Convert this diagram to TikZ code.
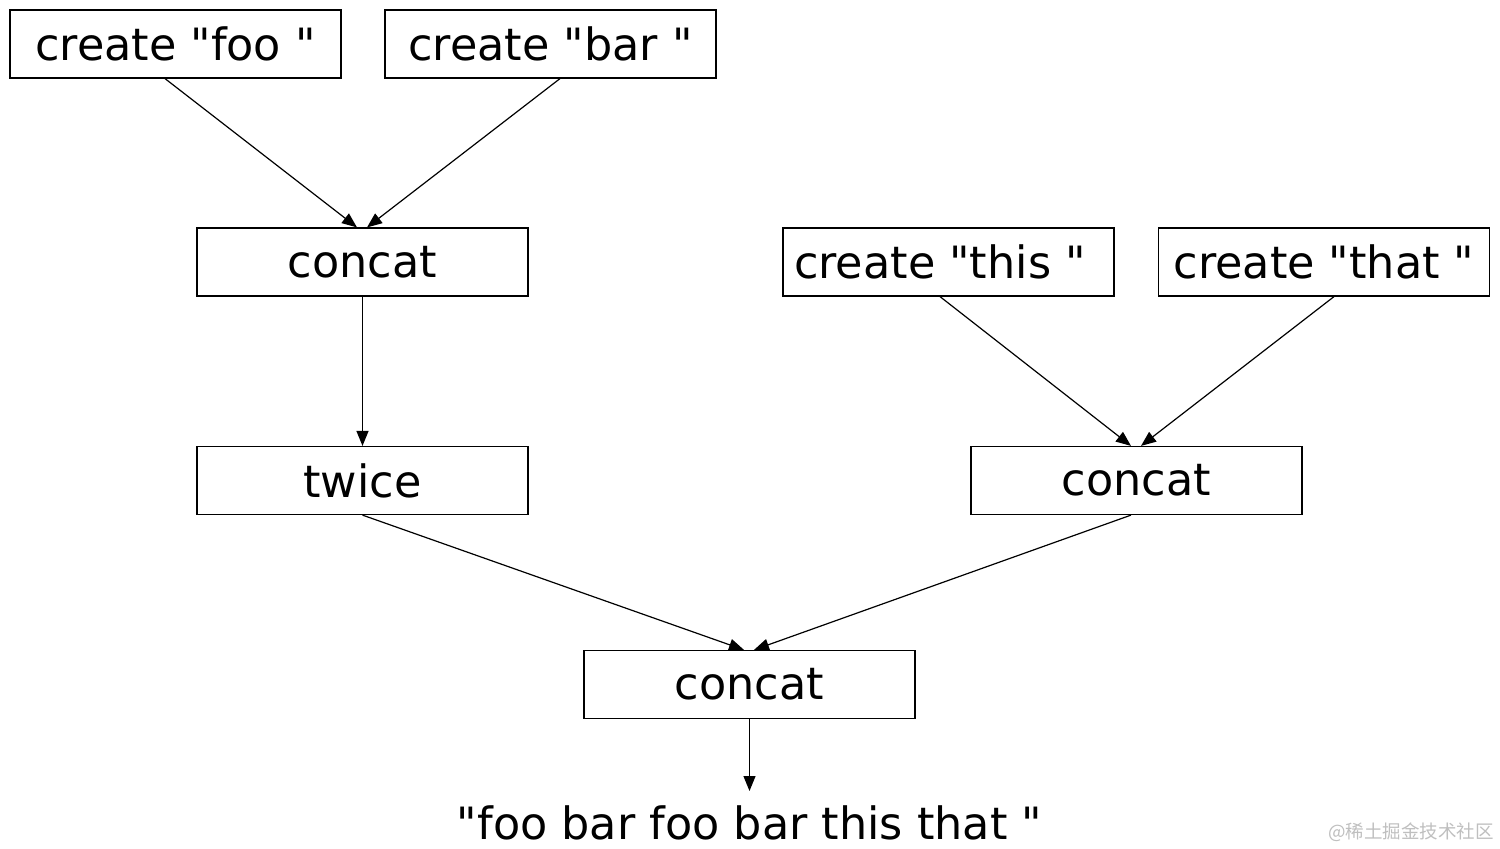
\documentclass[tikz,border=0pt]{standalone}
\usepackage{fontspec}
\setmainfont[Ligatures=TeXOff]{DejaVu Sans}
\newfontfamily\cjk{Noto Sans CJK SC}
\usetikzlibrary{arrows.meta,calc}
\begin{document}
\begin{tikzpicture}[x=1pt,y=-1pt,
  box/.style={draw,line width=1.2pt,minimum width=331pt,minimum height=68pt,inner sep=0pt,
    font=\fontsize{44.5}{50}\selectfont},
  conn/.style={line width=1.2pt,-{Triangle[length=15pt,width=12pt]}}]
\fill[white] (0,0) rectangle (1500,849);
\useasboundingbox (0,0) rectangle (1500,849);
\node[box] (foo) at (175.5,44) {create "foo "};
\node[box] (bar) at (550.5,44) {create "bar "};
\node[box] (c1) at (362.5,262) {concat};
\node[box] (this) at (948.5,262) {create "this "\rule{17pt}{0pt}};
\node[box] (that) at (1324,262) {create "that "};
\node[box] (tw) at (362.5,480.5) {twice};
\node[box] (c2) at (1136.5,480.5) {concat};
\node[box] (c3) at (749.5,684.5) {concat};
\node[font=\fontsize{44.5}{50}\selectfont,inner sep=0pt] (out) at (749.5,823) {"foo bar foo bar this that "};
\node[font=\cjk\fontsize{18.5}{20}\selectfont,text=black!25,anchor=east,inner sep=0pt] (wm) at (1494,832) {@稀土掘金技术社区};
\draw[conn] ([xshift=-10.5pt]foo.south) -- ([xshift=-5.5pt]c1.north);
\draw[conn] ([xshift=9.5pt]bar.south) -- ([xshift=4.5pt]c1.north);
\draw[conn] (c1.south) -- (tw.north);
\draw[conn] ([xshift=-8.5pt]this.south) -- ([xshift=-5.5pt]c2.north);
\draw[conn] ([xshift=10pt]that.south) -- ([xshift=4.5pt]c2.north);
\draw[conn] (tw.south) -- ([xshift=-5.5pt]c3.north);
\draw[conn] ([xshift=-5.5pt]c2.south) -- ([xshift=4.5pt]c3.north);
\draw[conn] (c3.south) -- (749.5,791) coordinate (outtop);
\end{tikzpicture}
\end{document}
